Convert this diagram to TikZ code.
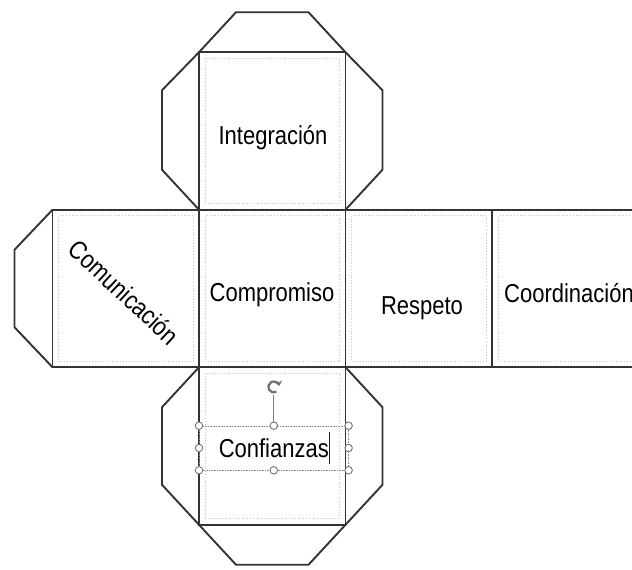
\documentclass[tikz,border=0pt]{standalone}
\usepackage{fontspec}
\setmainfont{Liberation Sans}
\usetikzlibrary{positioning,arrows.meta}
\newcommand{\tall}[1]{\scalebox{1}[1.18]{#1}}

\begin{document}
\begin{tikzpicture}
    [x=1pt,y=1pt,node distance=0pt,
     face/.style={draw=black!80,line width=1.9pt,minimum width=146.5pt,minimum height=157.5pt,inner sep=0pt,outer sep=0pt},
     flap/.style={draw=black!80,line width=1.9pt,line join=round},
     ghost/.style={draw=black!22,dotted,line width=0.8pt},
     word/.style={font=\fontsize{22}{26}\selectfont,text=black},
     handle/.style={circle,draw=black!55,fill=white,line width=0.9pt,minimum size=7.5pt,inner sep=0pt}]
    \useasboundingbox (0,0) rectangle (632,570);
    % faces of the net
    \node[face] (comp) at (272.25,281.5) {};
    \node[face] (integ) [above=of comp] {};
    \node[face] (comu) [left=of comp] {};
    \node[face] (resp) [right=of comp] {};
    \node[face] (coord) [right=of resp] {};
    \node[face] (conf) [below=of comp] {};
    \foreach \f in {comp,integ,comu,resp,coord,conf}
        \draw[ghost] ([shift={(6,-6)}]\f.north west) rectangle ([shift={(-6,6)}]\f.south east);
    % flaps
    \draw[flap] (integ.north west) -- ++(37,40) -- ([shift={(-37,40)}]integ.north east) -- (integ.north east);
    \draw[flap] (integ.north west) -- ++(-37,-38) -- ([shift={(-37,40)}]integ.south west) -- (integ.south west);
    \draw[flap] (integ.north east) -- ++(37,-38) -- ([shift={(37,40)}]integ.south east) -- (integ.south east);
    \draw[flap] (comu.north west) -- ++(-38,-40) -- ([shift={(-38,40)}]comu.south west) -- (comu.south west);
    \draw[flap] (conf.north west) -- ++(-37,-40) -- ([shift={(-37,40)}]conf.south west) -- (conf.south west);
    \draw[flap] (conf.north east) -- ++(37,-40) -- ([shift={(37,40)}]conf.south east) -- (conf.south east);
    \draw[flap] (conf.south west) -- ++(37,-40) -- ([shift={(-37,-40)}]conf.south east) -- (conf.south east);
    % labels
    \node[word] (tInteg) at (273,432) {\tall{Integración}};
    \node[word] (tComp) at (272,275) {\tall{Compromiso}};
    \node[word,rotate=-43] (tComu) at (124,278) {\tall{Comunicación}};
    \node[word] (tResp) at (422,262) {\tall{Respeto}};
    \node[word,anchor=west,inner sep=0pt] (tCoord) at (504,277) {\tall{Coordinación}};
    % selected text box
    \node[word,draw=black!45,densely dotted,line width=0.6pt,minimum width=149pt,minimum height=44pt] (tConf) at (273.8,122) {\tall{Confianzas}};
    \draw[black!85,line width=0.6pt] ([shift={(55.5,-16)}]tConf.center) -- ++(0,32);
    \node[circle,minimum size=16pt,inner sep=0pt] (rot) at (273.8,183) {};
    \draw[black!50,line width=0.7pt] (rot.south) -- (tConf.north);
    \draw[black!55,line width=2.3pt,-{Stealth[length=5pt,width=8pt]}] ([shift={(300:5.5)}]rot.center) arc[start angle=300,end angle=10,radius=5.5];
    \foreach \a [count=\i] in {north west,north,north east,west,east,south west,south,south east}
        \node[handle] (h\i) at (tConf.\a) {};
\end{tikzpicture}
\end{document}
